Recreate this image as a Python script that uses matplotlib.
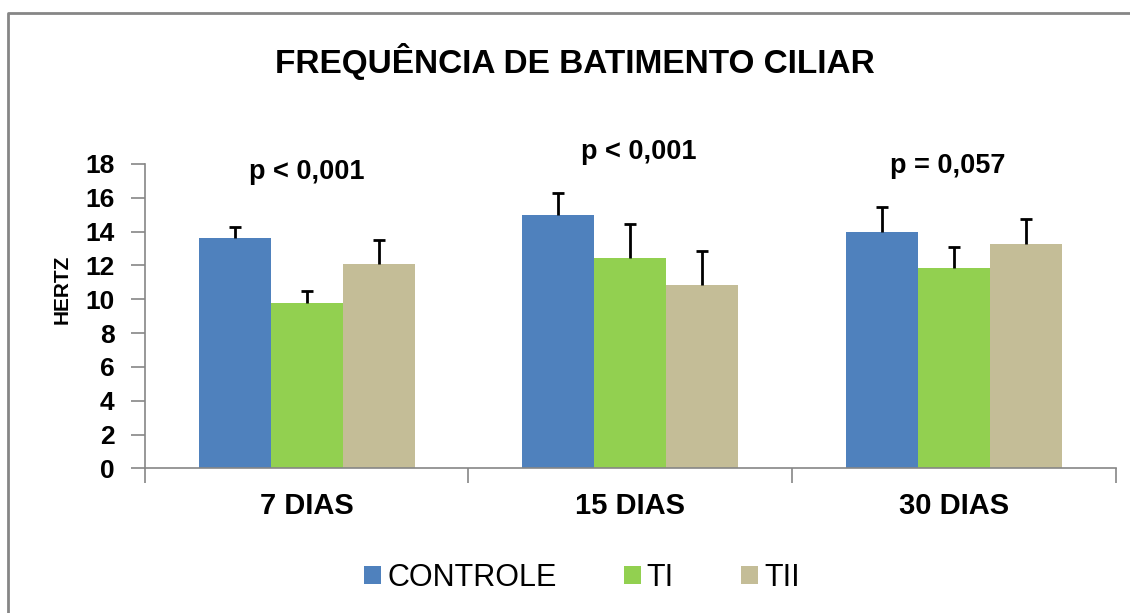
import numpy as np
import matplotlib
matplotlib.use("Agg")
import matplotlib.pyplot as plt
from matplotlib.lines import Line2D
from matplotlib.patches import Patch

# Data
CATEGORIES = ["7 DIAS", "15 DIAS", "30 DIAS"]
SERIES = ["CONTROLE", "TI", "TII"]
CONTROLE = [13.6, 15.0, 13.95]
TI = [9.75, 12.45, 11.85]
TII = [12.1, 10.85, 13.25]
CONTROLE_ERR = [0.7, 1.3, 1.5]
TI_ERR = [0.75, 2.0, 1.25]
TII_ERR = [1.4, 2.0, 1.5]
P_LABELS = ["p < 0,001", "p < 0,001", "p = 0,057"]
YTICKS = list(range(0, 19, 2))

BLUE = "#4F81BD"
GREEN = "#92D050"
TAN = "#C4BD97"
GRAY = "#868686"

plt.rcParams["font.family"] = ["Liberation Sans", "DejaVu Sans"]

fig = plt.figure(figsize=(11.3, 6.13), dpi=100)
ax = fig.add_axes([0.1283, 0.2360, 0.9872 - 0.1283, 0.7325 - 0.2360])

x = np.arange(len(CATEGORIES)) + 0.5
w = 1 / 4.5
values = [CONTROLE, TI, TII]
errors = [CONTROLE_ERR, TI_ERR, TII_ERR]
colors = [BLUE, GREEN, TAN]

for i, (vals, errs, col) in enumerate(zip(values, errors, colors)):
    pos = x + (i - 1) * w
    ax.bar(pos, vals, width=w, color=col, edgecolor="none", zorder=2)
    eb = ax.errorbar(pos, vals, yerr=[np.zeros(len(errs)), errs], fmt="none",
                     ecolor="black", elinewidth=2, capsize=4.5, capthick=2, zorder=3)
    # only the upper cap, like the Excel "plus" error bars
    eb[1][0].set_visible(False)

# p-value text boxes (placed as in the original, slightly off-centre)
p_dx = [0.0, 0.025, -0.02]
p_y = [17.5, 18.7, 17.9]
for xi, lab, dx, yp in zip(x, P_LABELS, p_dx, p_y):
    ax.text(xi + dx, yp, lab, ha="center", va="center", fontsize=19.5,
            fontweight="bold", clip_on=False)

ax.set_xlim(0, 3)
ax.set_ylim(0, 18)
ax.set_yticks(YTICKS)
ax.set_yticklabels([str(t) for t in YTICKS], fontsize=19, fontweight="bold")
ax.set_xticks([0, 1, 2, 3])
ax.set_xticklabels([])
ax.set_xticks(x, minor=True)
ax.set_xticklabels(CATEGORIES, minor=True, fontsize=21, fontweight="bold")
ax.tick_params(axis="x", which="minor", length=0, pad=17)
ax.tick_params(axis="x", which="major", length=11, color=GRAY, width=1.2)
ax.tick_params(axis="y", length=10, color=GRAY, width=1.2, pad=12)

for s in ["top", "right"]:
    ax.spines[s].set_visible(False)
for s in ["left", "bottom"]:
    ax.spines[s].set_color(GRAY)
    ax.spines[s].set_linewidth(1.2)

fig.text(62 / 1130, 1 - 289 / 613, "HERTZ", rotation=90, ha="center",
         va="center", fontsize=15, fontweight="bold")

fig.text(575 / 1130, 1 - 61 / 613, "FREQUÊNCIA DE BATIMENTO CILIAR",
         ha="center", va="center", fontsize=24, fontweight="bold",
         family=["Liberation Sans Narrow", "Liberation Sans", "DejaVu Sans"])

handles = [Patch(facecolor=c, edgecolor="none") for c in colors]
fig.legend(handles, SERIES, loc="center", bbox_to_anchor=(582 / 1130, 1 - 578 / 613),
           ncol=3, frameon=False, fontsize=22, handlelength=0.55, handleheight=0.55,
           handletextpad=0.2, columnspacing=2.2, borderpad=0, borderaxespad=0)

# outer chart border (left and top edges visible)
x0 = 8 / 1130
y0 = 1 - 13 / 613
fig.add_artist(Line2D([x0, x0, 1.0], [0.0, y0, y0], transform=fig.transFigure,
                      color=GRAY, linewidth=2))

fig.savefig("out.png", dpi=100)
